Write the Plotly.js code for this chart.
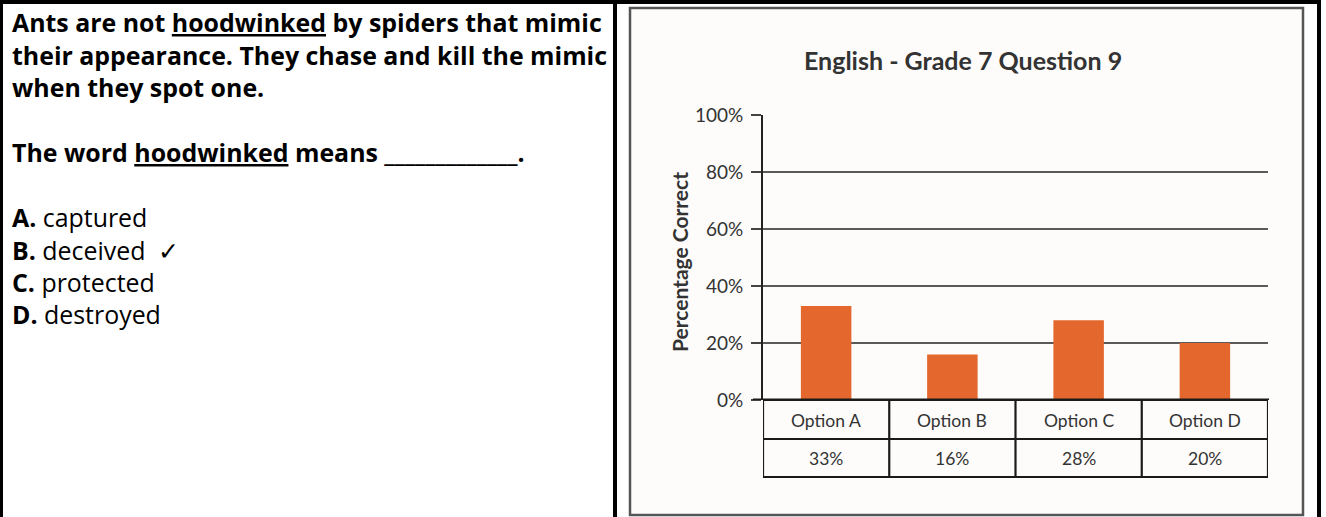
<!DOCTYPE html>
<html><head><meta charset="utf-8">
<script src="https://cdn.plot.ly/plotly-3.0.1.min.js"></script>
<style>html,body{margin:0;padding:0;background:#fff;}#chart{width:1326px;height:517px;}</style>
</head><body><div id="chart"></div>
<script>
// ---- data ----
const categories = ['Option A', 'Option B', 'Option C', 'Option D'];
const values = [33, 16, 28, 20];
const yTickValues = [0, 20, 40, 60, 80, 100];
const yTickLabels = ['0%', '20%', '40%', '60%', '80%', '100%'];
const chartTitle = 'English - Grade 7 Question 9';
const yTitle = 'Percentage Correct';
const questionLines = [
  '<b>Ants are not <u>hoodwinked</u> by spiders that mimic</b>',
  '<b>their appearance. They chase and kill the mimic</b>',
  '<b>when they spot one.</b>',
  '<b>The word <u>hoodwinked</u> means _____________.</b>',
  '<b>A.</b> captured',
  '<b>B.</b> deceived&nbsp;&nbsp;\u2713',
  '<b>C.</b> protected',
  '<b>D.</b> destroyed'
];

// ---- layout helpers ----
const W = 1326, H = 517;
const px = x => x / W;
const py = y => 1 - y / H;
const lineY = [22, 55, 87, 152, 217, 250, 282, 314];
const FONT = 'Lato, "Open Sans", sans-serif';
const QFONT = '"Open Sans", Lato, sans-serif';
const TXT = '#333333';

// fit question text size so the first line spans the same width as the reference
function fitSize(text, weight, family, target) {
  const ctx = document.createElement('canvas').getContext('2d');
  ctx.font = weight + ' 100px ' + family;
  const w = ctx.measureText(text).width;
  return w > 0 ? 100 * target / w : 24;
}
const qSize = Math.min(30, Math.max(20, fitSize('Ants are not hoodwinked by spiders that mimic', 'bold', '"Open Sans"', 590)));

const annotations = [];
questionLines.forEach((t, i) => {
  annotations.push({
    xref: 'paper', yref: 'paper', x: px(10), y: py(lineY[i]),
    xanchor: 'left', yanchor: 'middle', showarrow: false, text: t,
    font: {family: QFONT, size: qSize, color: '#000'}
  });
});
// chart title
annotations.push({
  xref: 'paper', yref: 'paper', x: px(963), y: py(60), xanchor: 'center', yanchor: 'middle',
  showarrow: false, text: '<b>' + chartTitle + '</b>', font: {family: FONT, size: 25, color: TXT}
});
// y title
annotations.push({
  xref: 'paper', yref: 'paper', x: px(679), y: py(262), xanchor: 'center', yanchor: 'middle',
  textangle: -90, showarrow: false, text: '<b>' + yTitle + '</b>', font: {family: FONT, size: 21, color: TXT}
});
// table rows
categories.forEach((c, i) => {
  annotations.push({xref: 'x', yref: 'paper', x: c, y: py(420), showarrow: false, text: c,
    xanchor: 'center', yanchor: 'middle', font: {family: FONT, size: 17.5, color: TXT}});
  annotations.push({xref: 'x', yref: 'paper', x: c, y: py(458), showarrow: false, text: values[i] + '%',
    xanchor: 'center', yanchor: 'middle', font: {family: FONT, size: 17.5, color: TXT}});
});

const shapes = [
  // chart frame (inner gray)
  {type: 'rect', xref: 'paper', yref: 'paper', x0: px(630), x1: px(1303), y0: py(515), y1: py(8),
   line: {color: '#555', width: 2.5}, fillcolor: '#fdfcfa', layer: 'below'},
  // black borders
  {type: 'rect', xref: 'paper', yref: 'paper', x0: 0, x1: px(1321), y0: py(4), y1: 1,
   line: {width: 0}, fillcolor: '#000'},
  {type: 'rect', xref: 'paper', yref: 'paper', x0: 0, x1: px(3), y0: 0, y1: 1,
   line: {width: 0}, fillcolor: '#000'},
  {type: 'rect', xref: 'paper', yref: 'paper', x0: px(613), x1: px(617), y0: 0, y1: 1,
   line: {width: 0}, fillcolor: '#000'},
  {type: 'rect', xref: 'paper', yref: 'paper', x0: px(1317), x1: px(1321), y0: 0, y1: 1,
   line: {width: 0}, fillcolor: '#000'},
  // table
  {type: 'rect', xref: 'x', yref: 'paper', x0: -0.5, x1: categories.length - 0.5, y0: py(477), y1: py(400),
   line: {color: '#1a1a1a', width: 2.2}},
  {type: 'line', xref: 'x', yref: 'paper', x0: -0.5, x1: categories.length - 0.5, y0: py(439), y1: py(439),
   line: {color: '#1a1a1a', width: 2.2}},
  // thicker zero line
  {type: 'line', xref: 'paper', yref: 'y', x0: px(753), x1: px(1269), y0: 0, y1: 0,
   line: {color: '#1a1a1a', width: 3}}
];
for (let i = 0; i < categories.length - 1; i++) {
  shapes.push({type: 'line', xref: 'x', yref: 'paper', x0: i + 0.5, x1: i + 0.5, y0: py(477), y1: py(400),
    line: {color: '#1a1a1a', width: 2.2}});
}

const trace = {
  type: 'bar', x: categories, y: values, width: 0.4,
  marker: {color: '#e4682d', line: {width: 0}}, hoverinfo: 'skip'
};

const layout = {
  width: W, height: H, margin: {l: 0, r: 0, t: 0, b: 0},
  paper_bgcolor: '#ffffff', plot_bgcolor: 'rgba(0,0,0,0)',
  showlegend: false,
  xaxis: {domain: [px(763), px(1268)], type: 'category', range: [-0.5, categories.length - 0.5],
    showticklabels: false, showgrid: false, zeroline: false, showline: false, ticks: '', fixedrange: true},
  yaxis: {domain: [py(400), py(115)], range: [0, 100], tickvals: yTickValues, ticktext: yTickLabels,
    ticks: 'outside', ticklen: 10, tickwidth: 1.5, tickcolor: '#444',
    showgrid: true, gridcolor: '#5a5a5a', gridwidth: 1.5, zeroline: false,
    showline: true, linecolor: '#222', linewidth: 2, ticklabelstandoff: 4,
    tickfont: {family: FONT, size: 19, color: TXT}, fixedrange: true},
  annotations: annotations,
  shapes: shapes
};

Plotly.newPlot('chart', [trace], layout, {displayModeBar: false, staticPlot: true});
</script>
</body></html>
